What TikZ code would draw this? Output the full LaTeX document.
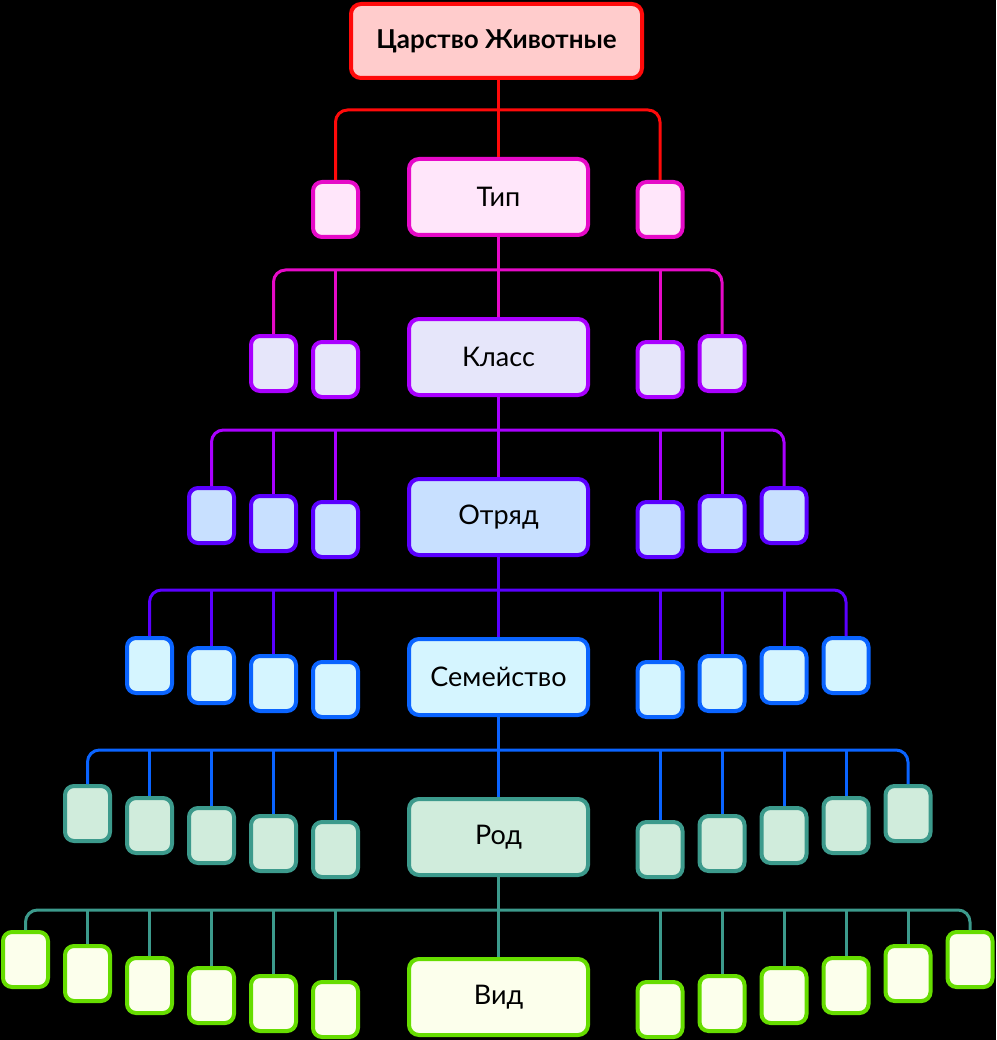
\documentclass[tikz,border=0pt]{standalone}
\usepackage{fontspec}
\setmainfont{Lato}
\usepackage{xcolor}
\definecolor{c0}{HTML}{FF0A0A}
\definecolor{f0}{HTML}{FFCCCC}
\definecolor{c1}{HTML}{E60AC8}
\definecolor{f1}{HTML}{FFE6FA}
\definecolor{c2}{HTML}{AA00FF}
\definecolor{f2}{HTML}{E6E6FA}
\definecolor{c3}{HTML}{5A00FF}
\definecolor{f3}{HTML}{C8E0FF}
\definecolor{c4}{HTML}{0A64FF}
\definecolor{f4}{HTML}{D5F5FF}
\definecolor{c5}{HTML}{3C9A8C}
\definecolor{f5}{HTML}{D0ECDC}
\definecolor{c6}{HTML}{66DD00}
\definecolor{f6}{HTML}{FCFFEC}

\begin{document}
\begin{tikzpicture}[x=1pt, y=-1pt,
		rank/.style={draw=c#1, fill=f#1, line width=4pt, rounded corners=10pt, minimum width=179pt, minimum height=76pt, inner sep=0pt, font=\fontsize{27}{32}\selectfont},
		leaf/.style={draw=c#1, fill=f#1, line width=4pt, rounded corners=9pt, minimum width=45pt, minimum height=55pt, inner sep=0pt},
		link/.style={draw=c#1, line width=3pt}]
		\fill[black] (0,0) rectangle (996,1040);
		\useasboundingbox (0,0) rectangle (996,1040);

		\node[rank=0, minimum width=291pt, minimum height=74pt, font=\bfseries\fontsize{26}{31}\selectfont] (m0) at (496.5,41) {Царство Животные};

		\foreach \n/\name in {1/Тип, 2/Класс, 3/Отряд, 4/Семейство, 5/Род, 6/Вид} {
			\pgfmathtruncatemacro\p{\n-1}
			\pgfmathsetmacro\ytop{157+160*(\n-1)}
			\coordinate (bus\n) at (498.5, {110+160*\p});
			\node[rank=\n] (m\n) at (498.5, {\ytop+40}) {\name};
			\draw[link=\p] (m\p.south -| m\n.north) -- (m\n.north);
			\foreach \i in {1,...,\n} {
				\pgfmathsetmacro\yy{\ytop+52.5-(\i-1)*(\i+4)}
				\node[leaf=\n] (l\n-\i) at ({335.5-62*(\i-1)}, \yy) {};
				\node[leaf=\n] (r\n-\i) at ({660+62*(\i-1)}, \yy) {};
				\ifnum\i<\n
					\draw[link=\p] (l\n-\i.north) -- (l\n-\i.north |- bus\n);
					\draw[link=\p] (r\n-\i.north) -- (r\n-\i.north |- bus\n);
				\fi
			}
			\draw[link=\p, rounded corners=12pt] (l\n-\n.north) -- (l\n-\n.north |- bus\n) -- (r\n-\n.north |- bus\n) -- (r\n-\n.north);
		}
	\end{tikzpicture}
\end{document}
